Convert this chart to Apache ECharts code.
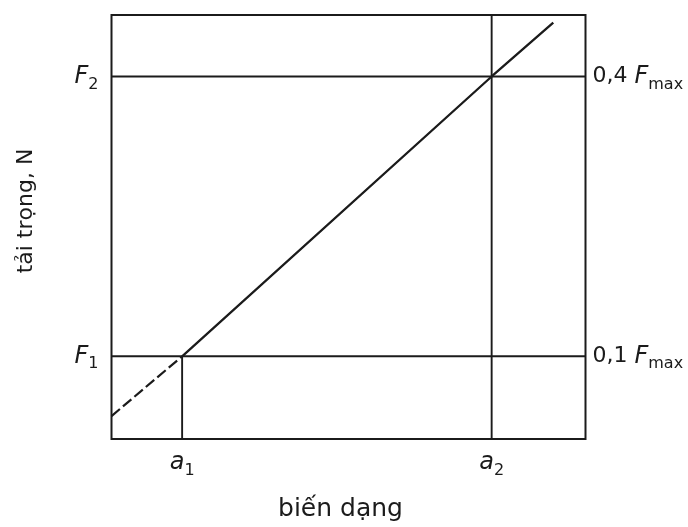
<!DOCTYPE html>
<html>
<head>
<meta charset="utf-8">
<script src="https://cdn.jsdelivr.net/npm/echarts@6/dist/echarts.min.js"></script>
<style>
  html, body { margin: 0; padding: 0; background: #fff; }
  #chart { width: 688px; height: 527px; }
</style>
</head>
<body>
<div id="chart"></div>
<script>
// points, axes are 0..100 in both directions
var strainMarks = [14.9, 80.2];          // a1, a2
var loadMarks = [19.5, 85.5];            // F1, F2
var strainNames = ['1', '2'];
var loadNames = ['1', '2'];
var rightNames = ['0,1', '0,4'];
var dashedPart = [[0, 5.4], [14.9, 19.5]];
var solidPart = [[14.9, 19.5], [80.2, 85.5], [93.2, 98.2]];

var ink = '#1b1b1b';
var font = 'DejaVu Sans';

function nearest(list, v) {
    var best = 0;
    list.forEach(function (x, i) {
        if (Math.abs(x - v) < Math.abs(list[best] - v)) best = i;
    });
    return best;
}

var rich = {
    i: { fontFamily: font, fontStyle: 'italic', fontSize: 24, lineHeight: 32, color: ink },
    n: { fontFamily: font, fontSize: 22, lineHeight: 32, color: ink },
    s: { fontFamily: font, fontSize: 16, lineHeight: 16, verticalAlign: 'bottom', color: ink }
};

function plain(data, dashed) {
    return {
        type: 'line',
        data: data,
        symbol: 'none',
        silent: true,
        animation: false,
        lineStyle: { color: ink, width: dashed ? 2.2 : 1.9, type: dashed ? [11, 4] : 'solid' }
    };
}

var series = [
    // horizontal guide lines F1, F2
    plain([[0, loadMarks[0]], [100, loadMarks[0]]]),
    plain([[0, loadMarks[1]], [100, loadMarks[1]]]),
    // vertical guide lines a1 (up to F1), a2 (full height)
    plain([[strainMarks[0], 0], [strainMarks[0], loadMarks[0]]]),
    plain([[strainMarks[1], 0], [strainMarks[1], 100]]),
    plain(dashedPart, true),
    plain(solidPart)
];
series[5].lineStyle.width = 2.3;

var option = {
    backgroundColor: '#fff',
    animation: false,
    grid: {
        left: 111.5, right: 102.5, top: 15, bottom: 87,
        show: true, borderColor: ink, borderWidth: 2
    },
    xAxis: {
        type: 'value', min: 0, max: 100,
        axisLine: { show: false }, axisTick: { show: false }, splitLine: { show: false },
        axisLabel: {
            customValues: strainMarks,
            margin: 8,
            formatter: function (v) { return '{i|a}{s|' + strainNames[nearest(strainMarks, v)] + '}'; },
            rich: rich
        },
        name: 'biến dạng',
        nameLocation: 'middle',
        nameGap: 58,
        nameTextStyle: { fontFamily: font, fontSize: 25, color: ink, padding: [0, 16, 0, 0] }
    },
    yAxis: [{
        type: 'value', min: 0, max: 100,
        axisLine: { show: false }, axisTick: { show: false }, splitLine: { show: false },
        axisLabel: {
            customValues: loadMarks,
            margin: 13,
            formatter: function (v) { return '{i|F}{s|' + loadNames[nearest(loadMarks, v)] + '}'; },
            rich: rich
        },
        name: 'tải trọng, N',
        nameLocation: 'middle',
        nameGap: 74,
        nameTextStyle: { fontFamily: font, fontSize: 22, color: ink, padding: [0, 0, 0, 32] }
    }, {
        type: 'value', min: 0, max: 100, position: 'right',
        axisLine: { show: false }, axisTick: { show: false }, splitLine: { show: false },
        axisLabel: {
            customValues: loadMarks,
            margin: 7,
            formatter: function (v) { return '{n|' + rightNames[nearest(loadMarks, v)] + ' }{i|F}{s|max}'; },
            rich: rich
        }
    }],
    series: series
};

echarts.init(document.getElementById('chart')).setOption(option);
</script>
</body>
</html>
